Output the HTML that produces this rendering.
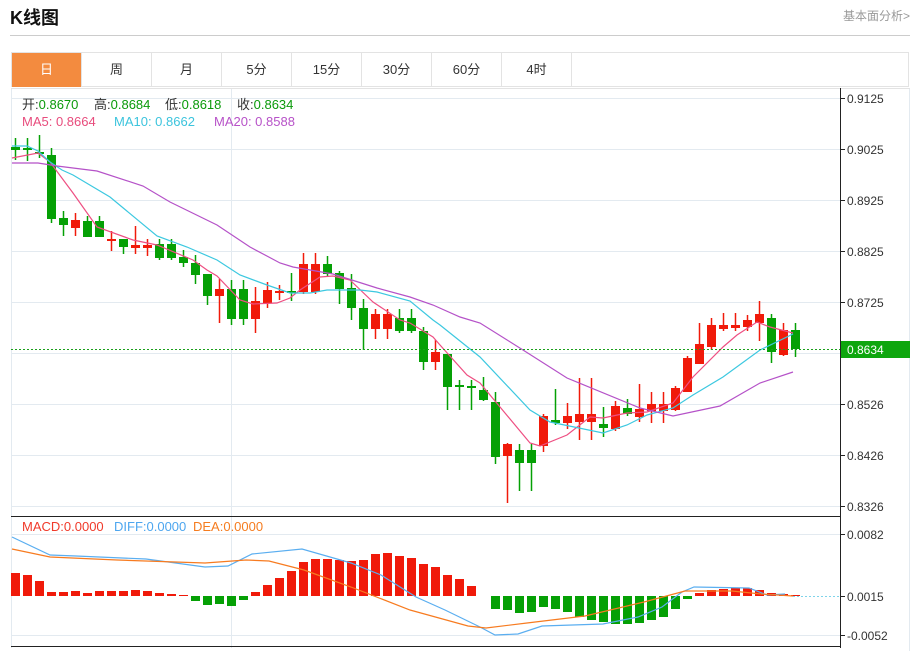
<!DOCTYPE html>
<html><head><meta charset="utf-8"><style>
body{margin:0;width:918px;height:651px;background:#fff;font-family:"Liberation Sans","Noto Sans CJK SC",sans-serif;overflow:hidden;position:relative}
.h{position:absolute;left:10px;top:4px;font-size:18px;font-weight:bold;color:#111}
.r{position:absolute;right:8px;top:7px;font-size:12px;color:#999}
.hl{position:absolute;left:10px;top:35px;width:900px;height:1px;background:#ccc}
.tabs{position:absolute;left:11px;top:52px;width:898px;height:35px;border:1px solid #e3e3e3;box-sizing:border-box}
.tab{position:absolute;top:0;width:70px;height:34px;line-height:34px;text-align:center;font-size:13px;color:#333;border-right:1px solid #e3e3e3;box-sizing:border-box}
</style></head><body>
<div class="h">K线图</div><div class="r">基本面分析&gt;</div><div class="hl"></div>
<div class="tabs">
<div class="tab" style="left:0;background:#f38b3f;color:#fff">日</div>
<div class="tab" style="left:70px">周</div><div class="tab" style="left:140px">月</div>
<div class="tab" style="left:210px">5分</div><div class="tab" style="left:280px">15分</div>
<div class="tab" style="left:350px">30分</div><div class="tab" style="left:420px">60分</div>
<div class="tab" style="left:490px">4时</div></div>
<svg id="s" width="918" height="651" style="position:absolute;left:0;top:0" font-family="Liberation Sans, Noto Sans CJK SC, sans-serif" font-size="12">
<g stroke="#e3eaf0" stroke-width="1">
<line x1="11" y1="98.5" x2="840" y2="98.5"/><line x1="11" y1="149.5" x2="840" y2="149.5"/><line x1="11" y1="200.5" x2="840" y2="200.5"/><line x1="11" y1="251.5" x2="840" y2="251.5"/><line x1="11" y1="302.5" x2="840" y2="302.5"/><line x1="11" y1="353.5" x2="840" y2="353.5"/><line x1="11" y1="404.5" x2="840" y2="404.5"/><line x1="11" y1="455.5" x2="840" y2="455.5"/><line x1="11" y1="506.5" x2="840" y2="506.5"/>
<line x1="11" y1="534.5" x2="840" y2="534.5"/><line x1="11" y1="635.5" x2="840" y2="635.5"/>
<line x1="231.5" y1="88" x2="231.5" y2="648"/><line x1="11.5" y1="88" x2="11.5" y2="648"/>
<line x1="909.5" y1="88" x2="909.5" y2="651"/>
</g>
<line x1="11" y1="88.5" x2="910" y2="88.5" stroke="#e3e3e3"/>
<line x1="840.5" y1="88" x2="840.5" y2="648" stroke="#222"/>
<line x1="11" y1="516.5" x2="840" y2="516.5" stroke="#222"/>
<line x1="11" y1="646.5" x2="840" y2="646.5" stroke="#222"/>
<g stroke="#222"><line x1="840" y1="98.5" x2="845" y2="98.5"/><line x1="840" y1="149.5" x2="845" y2="149.5"/><line x1="840" y1="200.5" x2="845" y2="200.5"/><line x1="840" y1="251.5" x2="845" y2="251.5"/><line x1="840" y1="302.5" x2="845" y2="302.5"/><line x1="840" y1="404.5" x2="845" y2="404.5"/><line x1="840" y1="455.5" x2="845" y2="455.5"/><line x1="840" y1="506.5" x2="845" y2="506.5"/><line x1="840" y1="534.5" x2="845" y2="534.5"/><line x1="840" y1="596.5" x2="845" y2="596.5"/><line x1="840" y1="635.5" x2="845" y2="635.5"/></g>
<g fill="#333">
<text x="847" y="103">0.9125</text><text x="847" y="154">0.9025</text><text x="847" y="205">0.8925</text><text x="847" y="256">0.8825</text><text x="847" y="307">0.8725</text><text x="847" y="409">0.8526</text><text x="847" y="460">0.8426</text><text x="847" y="511">0.8326</text>
<text x="847" y="539">0.0082</text><text x="847" y="601">0.0015</text><text x="847" y="640">-0.0052</text></g>
<g id="c"></g>
<line x1="11" y1="349.5" x2="840" y2="349.5" stroke="#1aa01a" stroke-dasharray="2,2"/>
<rect x="841" y="341" width="69" height="17" fill="#0ea60e"/>
<text x="847" y="354" fill="#fff">0.8634</text>
<line x1="793" y1="596.5" x2="840" y2="596.5" stroke="#7fd4ea" stroke-dasharray="2,2"/>
<g font-size="13">
<text x="22" y="109" fill="#333">开:<tspan fill="#0a9a0a">0.8670</tspan></text>
<text x="94" y="109" fill="#333">高:<tspan fill="#0a9a0a">0.8684</tspan></text>
<text x="165" y="109" fill="#333">低:<tspan fill="#0a9a0a">0.8618</tspan></text>
<text x="237" y="109" fill="#333">收:<tspan fill="#0a9a0a">0.8634</tspan></text>
<text x="22" y="126" fill="#e84c7d">MA5: 0.8664</text>
<text x="114" y="126" fill="#3cc4dd">MA10: 0.8662</text>
<text x="214" y="126" fill="#b752c8">MA20: 0.8588</text>
<text x="22" y="531" fill="#f03a2a">MACD:0.0000</text>
<text x="114" y="531" fill="#4da6ef">DIFF:0.0000</text>
<text x="193" y="531" fill="#f57c1f">DEA:0.0000</text>
</g>
</svg>
<script>
var C=[["G",147,150,138,160],["G",148,150,138,161],["G",152,154,135,158],["G",155,219,148,223],["G",218,225,211,236],["R",220,228,213,236],["G",221,237,216,237],["G",221,237,216,237],["R",239,241,231,251],["G",239,247,239,254],["R",245,248,226,254],["R",245,248,239,256],["G",244,258,239,260],["G",244,258,239,260],["G",257,263,250,267],["G",263,275,255,284],["G",274,296,274,305],["R",289,296,279,323],["G",289,319,280,325],["G",289,319,280,325],["R",301,319,287,333],["R",290,303,282,308],["R",291,292,285,300],["G",291,293,273,301],["R",264,292,253,294],["R",264,292,253,294],["G",264,274,256,277],["G",273,289,271,304],["G",288,308,274,320],["G",308,329,299,350],["R",314,329,309,339],["R",314,329,309,339],["G",318,331,309,333],["G",318,331,309,333],["G",331,362,327,370],["R",352,362,340,370],["G",354,387,354,410],["G",385,387,380,410],["G",386,388,380,410],["G",390,400,377,401],["G",402,457,392,464],["R",444,456,443,503],["G",450,463,444,491],["G",450,463,444,491],["R",416,446,414,452],["G",420,423,389,425],["R",416,423,403,429],["R",414,422,378,440],["R",414,422,378,440],["G",424,428,407,437],["R",406,429,401,431],["G",408,414,399,416],["R",409,417,384,422],["R",404,411,392,423],["R",404,411,392,423],["R",388,410,386,411],["R",358,392,356,392],["R",344,364,323,364],["R",325,347,318,350],["R",325,329,313,331],["R",325,328,313,331],["R",320,327,315,331],["R",314,323,301,341],["G",318,352,314,363],["R",330,355,323,356],["G",330,349,323,357]];
var M=[573,575,581,592,592,591,593,591,591,591,590,591,593,594,595,601,605,604,606,600,592,585,578,571,562,559,559,560,561,560,554,553,556,558,564,567,575,579,586,596,609,610,613,612,607,609,612,617,620,622,624,624,623,620,617,609,599,593,590,589,588,588,590,593,594,595];
var s="",Z=596;
for(var i=0;i<C.length;i++){var c=C[i],x=15+12*i,col=c[0]=="R"?"#f01a0a":"#05a005";
s+='<line x1="'+(x+.5)+'" y1="'+c[3]+'" x2="'+(x+.5)+'" y2="'+c[4]+'" stroke="'+col+'" stroke-width="1.5"/>';
s+='<rect x="'+(x-4)+'" y="'+c[1]+'" width="9" height="'+Math.max(2,c[2]-c[1])+'" fill="'+col+'"/>';
var m=M[i];if(m<Z)s+='<rect x="'+(x-4)+'" y="'+m+'" width="9" height="'+(Z-m)+'" fill="#f01a0a"/>';else if(m>Z)s+='<rect x="'+(x-4)+'" y="'+Z+'" width="9" height="'+(m-Z)+'" fill="#05a005"/>';}
function P(p,col){return '<polyline fill="none" stroke="'+col+'" stroke-width="1.2" points="'+p+'"/>';}
s+=P("12,158 38,153 50,162 73,193 97,227 133,240 157,245 193,260 207,270 217,276 240,300 253,304 277,303 290,298 300,290 320,277 333,276 350,280 373,302 400,320 410,323 433,337 440,345 467,375 480,383 530,443 540,446 567,435 590,417 603,418 627,413 647,412 673,403 693,377 723,347 737,335 757,322 770,327 793,333","#ee4f82");
s+=P("12,146 27,146 38,151 50,162 62,170 73,175 110,197 157,236 187,247 217,260 240,275 267,285 290,293 310,293 327,290 360,290 377,292 410,301 433,320 440,325 480,357 530,410 550,422 603,433 627,425 647,415 673,408 693,395 723,377 760,350 793,334","#3cc8e0");
s+=P("12,163 38,163 57,166 97,171 143,186 170,202 217,225 250,247 280,263 293,267 333,274 377,288 410,297 433,305 460,317 480,323 523,350 567,378 640,408 673,416 720,406 760,383 793,372","#b552c8");
s+=P("12,537 50,555 76,556 146,559 205,567 228,566 252,554 302,549 351,563 381,575 416,597 445,610 480,627 495,635 518,634 542,626 603,624 638,617 662,607 682,592 694,587 749,588 767,595 785,594","#5aaef0");
s+=P("12,549 50,557 117,560 205,563 246,560 269,561 304,570 351,587 410,610 468,626 486,628 527,623 585,616 644,602 685,591 732,591 761,594 793,596","#f77b20");
document.getElementById("c").innerHTML=s;
</script>
</body></html>
